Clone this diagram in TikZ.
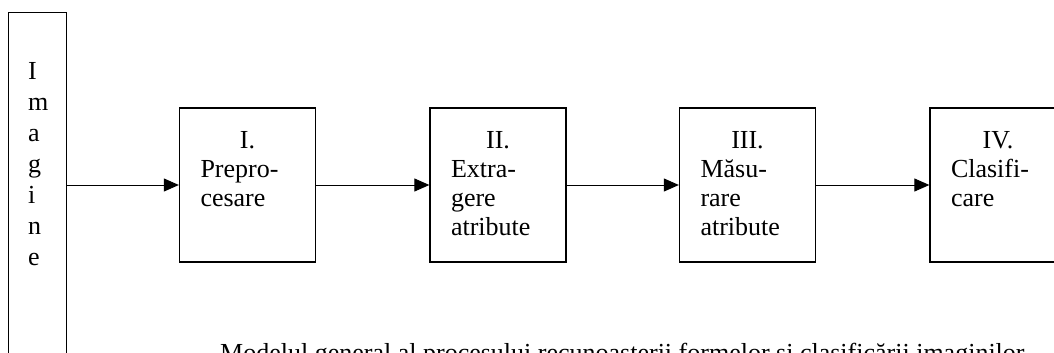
\documentclass[tikz,border=0pt]{standalone}
\usepackage{fontspec}
\setmainfont{Liberation Serif}
\usetikzlibrary{arrows.meta}
\begin{document}
\begin{tikzpicture}[x=1pt,y=-1pt,
  stagebox/.style={draw,line width=1.3pt,minimum width=136pt,minimum height=154pt,inner sep=0pt},
  stagetext/.style={align=left,text width=94pt,inner sep=0pt,font=\fontsize{26}{29}\selectfont},
  conn/.style={line width=1pt,-{Triangle[length=15pt,width=13pt]}}]
\useasboundingbox (0,0) rectangle (1054,353);
\node[draw,line width=1.3pt,minimum width=58pt,minimum height=420pt,inner sep=0pt,anchor=north west] (img) at (8,12) {};
\node[anchor=north west,inner sep=0pt,align=left,font=\fontsize{26}{31}\selectfont] (imgtext) at (28,62) {I\\m\\a\\g\\i\\n\\e};
\node[stagebox] (b1) at (247.5,185) {};
\node[stagebox] (b2) at (498,185) {};
\node[stagebox] (b3) at (747.5,185) {};
\node[stagebox] (b4) at (998,185) {};
\node[stagetext,anchor=north] (t1) at ([yshift=-24pt]b1.north) {\makebox[94pt][c]{I.}\\Prepro-\\cesare};
\node[stagetext,anchor=north] (t2) at ([yshift=-24pt]b2.north) {\makebox[94pt][c]{II.}\\Extra-\\gere\\atribute};
\node[stagetext,anchor=north] (t3) at ([yshift=-24pt]b3.north) {\makebox[94pt][c]{III.}\\Măsu-\\rare\\atribute};
\node[stagetext,anchor=north] (t4) at ([yshift=-24pt]b4.north) {\makebox[94pt][c]{IV.}\\Clasifi-\\care};
\draw[conn] (img.east |- b1.west) -- (b1.west);
\draw[conn] (b1.east) -- (b2.west);
\draw[conn] (b2.east) -- (b3.west);
\draw[conn] (b3.east) -- (b4.west);
\node[anchor=base west,inner sep=0pt,font=\fontsize{26}{29}\selectfont] (caption) at (220,361) {Modelul general al procesului recunoasterii formelor si clasificării imaginilor};
\end{tikzpicture}
\end{document}
